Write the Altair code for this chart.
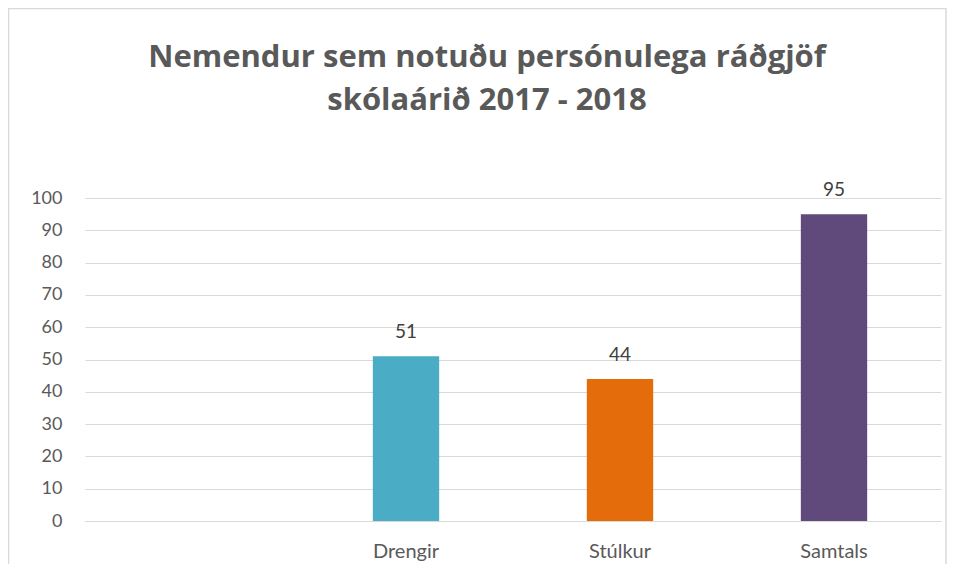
import altair as alt
import pandas as pd

categories = [" ", "Drengir", "Stúlkur", "Samtals"]
bar_categories = ["Drengir", "Stúlkur", "Samtals"]
values = [51, 44, 95]
colors = ["#4BACC6", "#E46C0A", "#604A7B"]
y_ticks = [0, 10, 20, 30, 40, 50, 60, 70, 80, 90, 100]
title_lines = ["Nemendur sem notuðu persónulega ráðgjöf", "skólaárið 2017 - 2018"]

df = pd.DataFrame({"cat": bar_categories, "val": values})

W = 856
H = 323
FONT = "Lato"

x_enc = alt.X(
    "cat:N",
    sort=categories,
    scale=alt.Scale(domain=categories, paddingInner=0.69, paddingOuter=0.345),
    axis=alt.Axis(
        title=None, labelAngle=0, ticks=False, tickSize=0, labelPadding=20,
        domainColor="#d9d9d9", labelFont=FONT, labelFontSize=20,
        labelColor="#595959", grid=False,
    ),
)
y_enc = alt.Y(
    "val:Q",
    scale=alt.Scale(domain=[0, 100], nice=False),
    axis=alt.Axis(
        title=None, values=y_ticks, ticks=False, tickSize=0, labelPadding=23,
        domain=False, gridColor="#d9d9d9", labelFont=FONT, labelFontSize=18,
        labelColor="#595959", labelOverlap=False,
    ),
)

bars = alt.Chart(df).mark_bar().encode(
    x=x_enc,
    y=y_enc,
    color=alt.Color("cat:N", scale=alt.Scale(domain=bar_categories, range=colors), legend=None),
)

labels = alt.Chart(df).mark_text(
    baseline="bottom", dy=-14, font=FONT, fontSize=19, color="#404040"
).encode(
    x=x_enc,
    y=y_enc,
    text="val:Q",
)

border = alt.Chart(alt.Data(values=[{"a": 1}])).mark_rect(
    fillOpacity=0, stroke="#d9d9d9", strokeWidth=1.5
).encode(
    x=alt.value(-76.5), x2=alt.value(861), y=alt.value(-189.5), y2=alt.value(400)
)

chart = alt.layer(border, bars, labels).properties(
    width=W,
    height=H,
    autosize=alt.AutoSizeParams(type="none"),
    padding={"left": 77, "top": 190, "right": 6, "bottom": 43},
    title=alt.Title(
        title_lines, font="Open Sans", fontSize=31, fontWeight="bold", color="#595959",
        anchor="middle", offset=-109, lineHeight=43, dx=-26,
    ),
).configure(background="white").configure_view(strokeWidth=0, stroke="transparent")

chart.save("out.html", embed_options={"renderer": "svg", "actions": False})
